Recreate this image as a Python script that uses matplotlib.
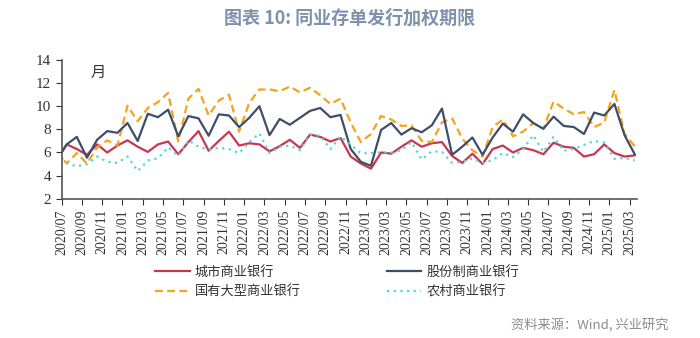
import numpy as np
import matplotlib
matplotlib.use('Agg')
import matplotlib.pyplot as plt

plt.rcParams['font.family'] = ['Liberation Serif', 'DejaVu Serif', 'Noto Sans CJK SC']

# --- data: 2020/06 .. 2025/03, months ---
months = ['2020/06'] + [f'{y}/{m:02d}' for y in range(2020, 2026) for m in range(1, 13)
                        if (y, m) >= (2020, 7) and (y, m) <= (2025, 3)]

city = [5.3,
        6.7, 6.3, 5.8, 6.7, 6.0, 6.6, 7.05, 6.5, 6.05, 6.7, 6.95, 5.85,
        6.9, 7.85, 6.15, 7.0, 7.8, 6.6, 6.8, 6.7, 6.1, 6.55, 7.1, 6.4,
        7.55, 7.35, 6.95, 7.25, 5.65, 5.05, 4.6, 6.0, 5.9, 6.5, 7.05, 6.5,
        6.8, 6.9, 5.7, 5.1, 5.9, 5.0, 6.3, 6.6, 6.0, 6.4, 6.2, 5.85,
        6.85, 6.5, 6.4, 5.65, 5.85, 6.7, 5.95, 5.65, 5.75]
joint = [5.3,
         6.7, 7.35, 5.55, 7.1, 7.85, 7.7, 8.55, 7.0, 9.35, 9.05, 9.7, 7.4,
         9.15, 8.95, 7.45, 9.3, 9.2, 8.2, 9.0, 10.0, 7.5, 8.9, 8.4, 9.0,
         9.6, 9.85, 9.05, 9.25, 6.3, 5.2, 4.85, 7.95, 8.55, 7.55, 8.1, 7.75,
         8.35, 9.8, 5.8, 6.5, 7.3, 5.8, 7.3, 8.5, 7.8, 9.3, 8.55, 8.05,
         9.1, 8.3, 8.2, 7.6, 9.45, 9.2, 10.2, 7.5, 5.85]
state = [6.15,
         5.05, 5.95, 5.05, 6.45, 7.05, 6.6, 10.05, 8.7, 9.85, 10.35, 11.15, 6.95,
         10.65, 11.5, 9.2, 10.5, 11.0, 7.8, 10.3, 11.45, 11.45, 11.3, 11.7, 11.2,
         11.6, 10.95, 10.2, 10.65, 8.6, 6.9, 7.6, 9.15, 8.85, 8.3, 8.35, 7.0,
         6.9, 8.6, 8.95, 7.2, 6.2, 5.65, 8.2, 8.85, 7.4, 7.8, 8.55, 8.05,
         10.4, 9.8, 9.3, 9.5, 8.2, 8.6, 11.4, 7.6, 6.55]
rural = [5.9,
         5.1, 4.8, 5.0, 5.65, 5.2, 5.1, 5.65, 4.4, 5.3, 5.5, 6.45, 5.7,
         7.05, 6.5, 6.25, 6.4, 6.3, 5.95, 6.9, 7.65, 5.95, 6.5, 6.6, 6.2,
         7.55, 7.45, 6.3, 7.4, 6.65, 5.95, 5.95, 6.0, 6.0, 6.2, 6.9, 5.4,
         6.1, 6.05, 5.1, 5.2, 5.5, 5.1, 5.35, 5.95, 5.6, 6.3, 7.5, 6.05,
         7.35, 6.15, 6.3, 6.65, 7.0, 6.85, 5.45, 5.55, 5.3]

# points sit mid-month, ticks at month start (2020/07 = 0)
x = np.arange(len(months)) - 0.5
tick_pos = np.arange(0, 57, 2)
tick_labels = months[1::2]

fig = plt.figure(figsize=(7, 3.38), dpi=100)
ax = fig.add_axes([0.088, 0.412, 0.8216, 0.4105])

ax.plot(x, city, color='#c8374f', lw=1.6, label='城市商业银行')
ax.plot(x, state, color='#f5a31a', lw=1.6, ls=(0, (3.5, 2)), label='国有大型商业银行')
ax.plot(x, joint, color='#3e4d6b', lw=1.6, label='股份制商业银行')
ax.plot(x, rural, color='#4fd8d8', lw=1.6, ls=(0, (1, 2)), label='农村商业银行')

ax.set_xlim(0, 56.7)
ax.set_ylim(2, 14)
ax.set_yticks(range(2, 15, 2))
ax.set_xticks(tick_pos)
ax.set_xticklabels(tick_labels, rotation=90, fontsize=10, color='#333333',
                   family=['Liberation Serif', 'DejaVu Serif'])
ax.set_yticklabels([str(v) for v in range(2, 15, 2)], fontsize=11, color='#333333',
                   family=['Liberation Serif', 'DejaVu Serif'])
ax.tick_params(axis='y', colors='#333333', length=4)
ax.tick_params(axis='x', length=4, colors='#333333')

for s in ['top', 'right']:
    ax.spines[s].set_visible(False)
for s in ['left', 'bottom']:
    ax.spines[s].set_color('#555555')
    ax.spines[s].set_linewidth(1.2)

ax.text(0.063, 0.97, '月', transform=ax.transAxes, fontsize=11,
        family=['Noto Sans CJK SC'], va='top', ha='center', color='#333333')

fig.text(0.5, 0.945, '图表 10: 同业存单发行加权期限', ha='center', va='center',
         fontsize=13, fontweight='bold', color='#7e91ad', family=['Noto Sans CJK SC'])

leg = fig.legend(loc='upper left', bbox_to_anchor=(0.205, 0.25), ncol=2, frameon=False,
                 prop={'family': 'Noto Sans CJK SC', 'size': 9.5}, handlelength=2.6,
                 columnspacing=6.5, labelspacing=0.55, handletextpad=0.4)
for t in leg.get_texts():
    t.set_color('#333333')

fig.text(0.955, 0.038, '资料来源：Wind, 兴业研究', ha='right', va='center',
         fontsize=9.5, color='#8c8c8c', family=['Noto Sans CJK SC'])

fig.savefig('out.png', dpi=100)
